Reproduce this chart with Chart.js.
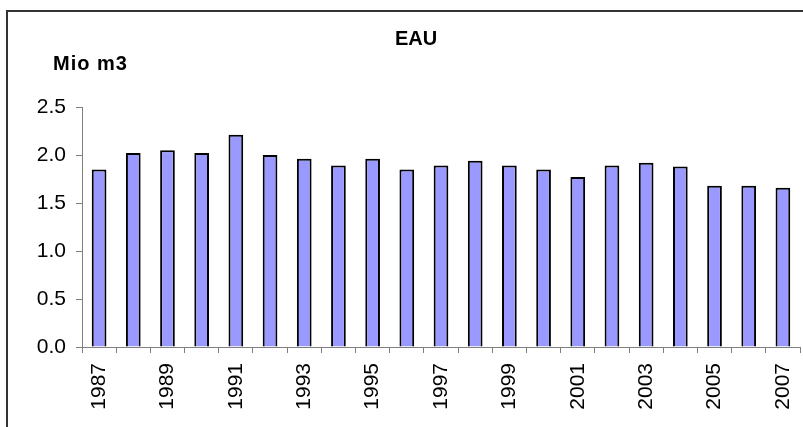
<!DOCTYPE html>
<html lang="fr">
<head>
    <meta charset="UTF-8">
    <title>EAU</title>
    <script src="https://cdnjs.cloudflare.com/ajax/libs/Chart.js/4.4.1/chart.umd.min.js"></script>
    <style>
        html, body { margin: 0; padding: 0; background: #fff; }
        #chart { position: absolute; left: 0; top: 0; }
    </style>
</head>
<body>
    <canvas id="chart" width="803" height="427"></canvas>
    <script>
        // Data
        const years = ['1987', '1988', '1989', '1990', '1991', '1992', '1993', '1994', '1995', '1996', '1997',
            '1998', '1999', '2000', '2001', '2002', '2003', '2004', '2005', '2006', '2007'];
        const volumes = [1.85, 2.02, 2.05, 2.02, 2.21, 2.00, 1.96, 1.89, 1.96, 1.85, 1.89,
            1.94, 1.89, 1.85, 1.77, 1.89, 1.92, 1.88, 1.68, 1.68, 1.66];
        const chartTitle = 'EAU';
        const unitLabel = 'Mio m3';

        const FONT = 'Arial, "Liberation Sans", sans-serif';

        // Frame and header texts
        const decorations = {
            id: 'decorations',
            beforeDraw(chart) {
                const ctx = chart.ctx;
                ctx.save();
                ctx.strokeStyle = '#333';
                ctx.lineWidth = 2;
                ctx.beginPath();
                ctx.moveTo(7, 440);
                ctx.lineTo(7, 11);
                ctx.lineTo(820, 11);
                ctx.stroke();
                ctx.restore();
            },
            afterDraw(chart) {
                const ctx = chart.ctx;
                ctx.save();
                ctx.fillStyle = '#000';
                ctx.font = 'bold 20px ' + FONT;
                ctx.textAlign = 'center';
                ctx.textBaseline = 'alphabetic';
                ctx.fillText(chartTitle, 416, 45);
                ctx.textAlign = 'left';
                ctx.letterSpacing = '1px';
                ctx.fillText(unitLabel, 53, 70);
                ctx.restore();
            }
        };

        new Chart(document.getElementById('chart'), {
            type: 'bar',
            data: {
                labels: years,
                datasets: [{
                    data: volumes,
                    backgroundColor: '#9999ff',
                    borderColor: '#000',
                    borderWidth: 2,
                    barPercentage: 0.43,
                    categoryPercentage: 1
                }]
            },
            options: {
                responsive: false,
                devicePixelRatio: 1,
                animation: false,
                layout: { padding: { top: 107, right: 3, bottom: 0, left: 0 } },
                plugins: {
                    legend: { display: false },
                    tooltip: { enabled: false }
                },
                scales: {
                    x: {
                        afterFit: (scale) => {
                            scale.height = 80;
                            scale.paddingRight = 0;
                            scale.paddingLeft = 0;
                        },
                        grid: { offset: true, drawOnChartArea: false, tickLength: 6, color: '#808080' },
                        border: { color: '#808080' },
                        ticks: {
                            autoSkip: false,
                            maxRotation: 90,
                            minRotation: 90,
                            padding: 10,
                            color: '#000',
                            font: { family: FONT, size: 21 },
                            callback: function (value, index) {
                                return index % 2 === 0 ? years[index] : '';
                            }
                        }
                    },
                    y: {
                        min: 0,
                        max: 2.5,
                        afterFit: (scale) => { scale.width = 82; },
                        grid: { drawOnChartArea: false, tickLength: 6, color: '#808080' },
                        border: { color: '#808080' },
                        ticks: {
                            stepSize: 0.5,
                            padding: 10,
                            color: '#000',
                            font: { family: FONT, size: 21 },
                            callback: (v) => v.toFixed(1)
                        }
                    }
                }
            },
            plugins: [decorations]
        });
    </script>
</body>
</html>
